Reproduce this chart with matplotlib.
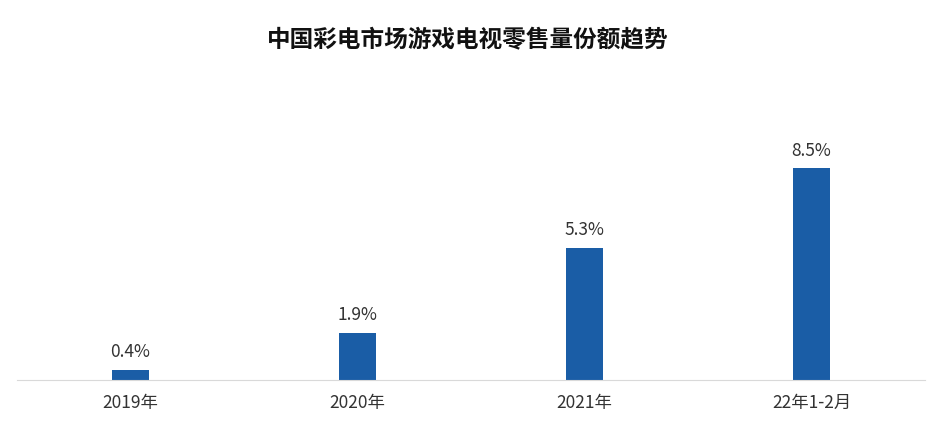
import matplotlib
matplotlib.use("Agg")
import matplotlib.pyplot as plt

plt.rcParams['font.family'] = ['Noto Sans CJK SC', 'DejaVu Sans']

# data
categories = ['2019年', '2020年', '2021年', '22年1-2月']
shares = [0.4, 1.9, 5.3, 8.5]
labels = ['0.4%', '1.9%', '5.3%', '8.5%']

fig = plt.figure(figsize=(9.36, 4.34), dpi=100)
ax = fig.add_axes([17/936, 1 - 380/434, 908/936, 249/434])

x = range(len(categories))
bars = ax.bar(x, shares, width=0.167, color='#1a5da6')
for b, lab in zip(bars, labels):
    ax.text(b.get_x() + b.get_width()/2, b.get_height() + 0.35, lab,
            ha='center', va='bottom', fontsize=12.5, color='#333333')

ax.set_xlim(-0.5, 3.5)
ax.set_ylim(0, 10)
ax.set_xticks(list(x))
ax.set_xticklabels(categories, fontsize=12.5, color='#333333')
ax.tick_params(axis='x', length=0, pad=10)
ax.set_yticks([])
for s in ['top', 'right', 'left']:
    ax.spines[s].set_visible(False)
ax.spines['bottom'].set_color('#d9d9d9')

fig.text(0.5, 1 - 40/434, '中国彩电市场游戏电视零售量份额趋势', ha='center', va='center',
         fontsize=17, fontweight='bold', color='#111111')

fig.savefig('out.png', dpi=100, facecolor='white')
